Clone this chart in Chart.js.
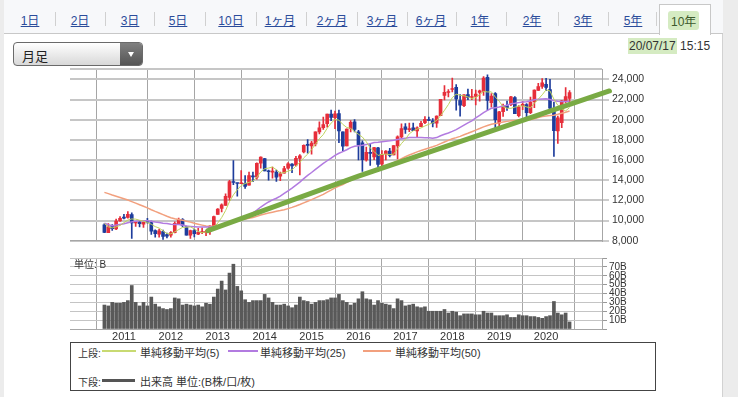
<!DOCTYPE html>
<html lang="ja">
<head>
<meta charset="utf-8">
<script src="https://cdn.jsdelivr.net/npm/chart.js@4.4.1/dist/chart.umd.min.js"></script>
<style>
  html, body { margin: 0; padding: 0; }
  body { width: 738px; height: 397px; overflow: hidden; position: relative; background: #ececec;
         font-family: "Liberation Sans", "Noto Sans CJK JP", sans-serif; color: #333; }
  #panel { position: absolute; left: 4px; top: 0; width: 718px; height: 397px; background: #fff; border-right: 1px solid #d2d2d2; }
  #tabbar { position: absolute; left: 4px; top: 0; width: 719px; height: 33px; background: #f7f8fa; border-bottom: 1px solid #c8c8c8; }
  .tab { position: absolute; top: 11px; font-size: 12px; color: #2b4c9b; text-decoration: underline; transform: translateX(-50%); white-space: nowrap; }
  .sep { position: absolute; top: 12px; width: 1px; height: 14px; background: #d0d0d0; }
  #active { position: absolute; left: 659px; top: 4px; width: 50px; height: 30px; background: #fff;
            border: 1px solid #c8c8c8; border-bottom: none; }
  #active span { position: absolute; left: 8px; top: 6px; font-size: 12px; color: #3d5a2c; background: #d5ebc2; padding: 1px 3px; border-radius: 3px; }
  #sel { position: absolute; left: 13px; top: 42px; width: 128px; height: 22px; border: 1px solid #6a6a6a; border-radius: 4px;
         background: linear-gradient(#ffffff, #d8d8d8); overflow: hidden; }
  #sel .txt { position: absolute; left: 8px; top: 3px; font-size: 13px; color: #222; }
  #sel .btn { position: absolute; right: 0; top: 0; width: 22px; height: 22px; background: linear-gradient(#808080, #555); }
  #sel .btn::after { content: ""; position: absolute; left: 8px; top: 9px; border-left: 3px solid transparent; border-right: 3px solid transparent; border-top: 5px solid #fff; }
  #stamp { position: absolute; left: 628px; top: 39px; font-size: 12px; color: #333; white-space: nowrap; }
  #stamp b { font-weight: normal; background: #d5ebc2; padding: 1px 1px; }
  canvas { position: absolute; left: 0; }
  #unit { position: absolute; left: 74px; top: 256px; font-size: 10px; color: #333; }
  #legend { position: absolute; left: 70px; top: 342px; width: 584px; height: 47px; border: 1px solid #444; background: #fff; }
  .lg { position: absolute; font-size: 11px; color: #333; white-space: nowrap; }
  .hd { position: absolute; font-size: 10px; color: #333; white-space: nowrap; }
  .ln { position: absolute; display: block; }
</style>
</head>
<body>
<div id="panel"></div>
<div id="tabbar"></div>
<div id="tabs"></div>
<div id="sel"><span class="txt">月足</span><span class="btn"></span></div>
<div id="stamp"><b>20/07/17</b> 15:15</div>
<canvas id="price" width="660" height="190" style="top:60px"></canvas>
<canvas id="volume" width="660" height="100" style="top:250px"></canvas>
<div id="unit">単位: B</div>
<div id="legend">
  <span class="hd" style="left:7px;top:2px">上段:</span>
  <span class="ln" style="left:31px;top:7px;width:34px;height:2px;background:#c8da72"></span>
  <span class="lg" style="left:69px;top:1px">単純移動平均(5)</span>
  <span class="ln" style="left:157px;top:7px;width:30px;height:2px;background:#b27be0"></span>
  <span class="lg" style="left:189px;top:1px">単純移動平均(25)</span>
  <span class="ln" style="left:292px;top:7px;width:28px;height:2px;background:#f2a07e"></span>
  <span class="lg" style="left:324px;top:1px">単純移動平均(50)</span>
  <span class="hd" style="left:7px;top:31px">下段:</span>
  <span class="ln" style="left:31px;top:36px;width:33px;height:3px;background:#555"></span>
  <span class="lg" style="left:69px;top:30px">出来高 単位:(B株/口/枚)</span>
</div>
<script>
// Period tabs (last one is the selected "10年")
const tabLabels = ['1日', '2日', '3日', '5日', '10日', '1ヶ月', '2ヶ月', '3ヶ月', '6ヶ月', '1年', '2年', '3年', '5年'];
const tabCenters = [30, 80, 130, 178, 231, 280, 332, 382, 431, 480, 532, 583, 633];

// Monthly candles, Aug 2010 .. Jul 2020 (index 0 = 2010/08)
const opens = [
  9570, 8800, 9400, 9180, 9950,
  10352, 10300, 10600, 9760, 9850, 9650, 9870, 9800, 9000, 8650, 8900, 8600,
  8550, 8800, 9700, 10100, 9400, 8550, 9000, 8650, 8800, 8800, 8900, 9450,
  10600, 11200, 11500, 12300, 13800, 13700, 13650, 13700, 13500, 14400, 14300, 15700,
  16150, 14900, 14800, 14800, 14400, 14700, 15200, 15600, 15500, 16150, 16800, 17500,
  17400, 17600, 18800, 19200, 19600, 20550, 20200, 20600, 18800, 17400, 19100, 19800,
  18800, 17700, 16000, 16700, 16300, 17200, 15600, 16600, 16900, 16500, 17400, 18300,
  19300, 19000, 19200, 18900, 19300, 19700, 20000, 19900, 19650, 20400, 22400, 22700,
  23000, 23200, 21900, 21400, 22500, 22200, 22300, 22700, 22800, 24200, 21700, 22600,
  19655, 20800, 21400, 21500, 22200, 20400, 21400, 21500, 20700, 21800, 22900, 23300,
  23500, 23000, 21100, 18900, 19700, 21900, 22100
];
const highs = [
  9694, 9700, 9597, 10155, 10394,
  10620, 10891, 10768, 9900, 10017, 9870, 10207, 9940, 9085, 9152, 9050, 8750,
  8900, 9866, 10255, 10190, 9450, 9055, 9136, 9222, 9288, 9035, 9498, 10433,
  11191, 11662, 12650, 13980, 15942, 13711, 14953, 14467, 14817, 14799, 15727, 16320,
  16164, 15000, 15300, 15000, 14800, 15376, 15759, 15660, 16374, 16533, 17520, 18030,
  17850, 18800, 19778, 20252, 20563, 20953, 20850, 20946, 18800, 19100, 19925, 20012,
  18951, 17905, 17291, 17613, 17251, 17250, 16938, 16943, 17156, 17446, 18389, 19592,
  19615, 19668, 19668, 19289, 19832, 20318, 20250, 20100, 20397, 22012, 23382, 23000,
  24129, 23486, 22502, 22500, 23050, 23011, 22949, 22950, 24286, 24448, 22583, 22698,
  20832, 21556, 21860, 22307, 22300, 21400, 21823, 21600, 22255, 22974, 23608, 24091,
  24115, 23995, 21719, 20365, 21916, 23185, 22893
];
const lows = [
  8807, 8797, 9027, 9100, 9900,
  10148, 10240, 8227, 9420, 9370, 9317, 9730, 8619, 8359, 8343, 8135, 8272,
  8349, 8766, 9700, 9388, 8541, 8238, 8365, 8600, 8700, 8488, 8619, 9430,
  10600, 10850, 11500, 12004, 13555, 12415, 13650, 13188, 13500, 13853, 14100, 15200,
  14914, 13995, 14200, 13885, 13964, 14700, 15100, 14753, 15400, 14529, 16700, 16672,
  16592, 17400, 18600, 19034, 19258, 19900, 19115, 17714, 16901, 17400, 18800, 18800,
  16017, 14865, 15900, 15471, 16040, 14864, 15300, 16000, 16300, 16500, 16111, 18200,
  18650, 18805, 18909, 18224, 19300, 19600, 19900, 19280, 19239, 20400, 21973, 22251,
  22764, 20950, 20347, 21300, 22000, 22000, 21462, 21851, 22400, 20971, 21243, 18948,
  19241, 20315, 20911, 21400, 20601, 20289, 21000, 20110, 20600, 21200, 22900, 23100,
  22892, 20916, 16358, 17646, 19200, 21700, 21800
];
const closes = [
  8824, 9369, 9202, 9937, 10229,
  10238, 10624, 9755, 9850, 9694, 9816, 9833, 8955, 8700, 8988, 8435, 8455,
  8803, 9723, 10084, 9521, 8543, 9007, 8695, 8840, 8870, 8928, 9446, 10395,
  11139, 11559, 12398, 13861, 13775, 13677, 13668, 13389, 14456, 14328, 15662, 16291,
  14915, 14841, 14828, 14304, 14632, 15162, 15621, 15425, 16174, 16414, 17460, 17451,
  17674, 18798, 19207, 19520, 20563, 20236, 20585, 18890, 17388, 19083, 19747, 19034,
  17518, 16027, 16759, 16666, 17235, 15576, 16569, 16887, 16450, 17425, 18308, 19114,
  19041, 19119, 18909, 19197, 19651, 20033, 19925, 19646, 20356, 22012, 22725, 22765,
  23098, 22068, 21454, 22468, 22202, 22305, 22554, 22865, 24120, 21920, 22351, 20015,
  20773, 21385, 21206, 22259, 20601, 21276, 21522, 20704, 21756, 22927, 23294, 23657,
  23205, 21143, 18917, 20194, 21878, 22288, 22696
];

// Moving averages (same months)
const ma5 = [
  9714, 9376, 9263, 9374, 9512, 9795, 10046, 10157, 10139, 10032,
  9948, 9790, 9630, 9400, 9258, 8982, 8707, 8676, 8881, 9100,
  9317, 9335, 9376, 9170, 8921, 8791, 8868, 8956, 9296, 9756,
  10293, 10987, 11870, 12546, 13054, 13476, 13674, 13793, 13904, 14301,
  14825, 15130, 15207, 15307, 15036, 14704, 14753, 14909, 15029, 15403,
  15759, 16219, 16585, 17035, 17559, 18118, 18530, 19152, 19665, 20022,
  19959, 19532, 19236, 19139, 18828, 18554, 18282, 17817, 17201, 16841,
  16453, 16561, 16587, 16543, 16581, 17128, 17637, 18068, 18601, 18898,
  19076, 19183, 19382, 19543, 19690, 19922, 20394, 20933, 21501, 22191,
  22534, 22422, 22371, 22258, 22099, 22197, 22479, 22809, 22753, 22762,
  22254, 21836, 21289, 21146, 21128, 21245, 21345, 21373, 21272, 21172,
  21637, 22041, 22468, 22968, 22845, 22043, 21423, 21067, 20884, 21195
];
const ma25 = [
  9726, 9578, 9495, 9550, 9618, 9674, 9779, 9866, 9936, 9971,
  9982, 9977, 9921, 9850, 9804, 9740, 9704, 9635, 9616, 9614,
  9551, 9451, 9420, 9393, 9365, 9367, 9349, 9359, 9377, 9413,
  9466, 9537, 9702, 9859, 10018, 10172, 10314, 10534, 10759, 11026,
  11341, 11599, 11840, 12045, 12213, 12418, 12683, 12947, 13216, 13510,
  13812, 14153, 14473, 14764, 15071, 15376, 15661, 15929, 16188, 16464,
  16673, 16833, 17018, 17235, 17370, 17419, 17463, 17540, 17614, 17731,
  17769, 17825, 17875, 17916, 17966, 18042, 18108, 18172, 18230, 18234,
  18234, 18239, 18218, 18205, 18168, 18227, 18411, 18557, 18678, 18840,
  19022, 19240, 19468, 19689, 19892, 20171, 20423, 20712, 20931, 21128,
  21197, 21263, 21357, 21440, 21574, 21630, 21695, 21755, 21786, 21870,
  21973, 22025, 22062, 22079, 22001, 21875, 21825, 21801, 21805, 21820
];
const ma50 = [
  12791, 12669, 12530, 12407, 12283, 12162, 12030, 11878, 11723, 11571,
  11419, 11258, 11075, 10904, 10752, 10585, 10420, 10282, 10170, 10100,
  10018, 9939, 9842, 9729, 9636, 9546, 9463, 9427, 9463, 9516,
  9570, 9658, 9784, 9897, 9994, 10077, 10146, 10228, 10304, 10415,
  10540, 10652, 10738, 10830, 10914, 10985, 11067, 11184, 11305, 11437,
  11589, 11751, 11916, 12071, 12242, 12421, 12599, 12815, 13023, 13241,
  13422, 13574, 13776, 13997, 14198, 14380, 14531, 14690, 14829, 14972,
  15093, 15254, 15411, 15566, 15738, 15927, 16131, 16323, 16497, 16652,
  16805, 16950, 17074, 17197, 17316, 17450, 17622, 17788, 17956, 18105,
  18221, 18351, 18504, 18651, 18811, 18970, 19124, 19294, 19424, 19547,
  19619, 19686, 19764, 19835, 19904, 19932, 19967, 19986, 19996, 20019,
  20100, 20218, 20309, 20379, 20421, 20449, 20532, 20635, 20747, 20856
];

// Hand-drawn trend line (month index, price)
const trendX = [26.5, 65, 129.2];
const trendY = [9000, 14400, 22850];

// Monthly volume, billions
const volumes = [
  27, 26, 30, 29, 29,
  30, 32, 49, 30, 26, 30, 26, 36, 28, 25, 23, 22,
  23, 35, 34, 27, 28, 27, 26, 27, 25, 29, 28, 36,
  45, 54, 44, 63, 73, 48, 43, 33, 30, 32, 32, 32,
  39, 35, 30, 27, 27, 28, 26, 24, 27, 36, 32, 31,
  28, 30, 32, 32, 33, 35, 35, 39, 32, 30, 27, 29,
  34, 42, 34, 33, 27, 32, 29, 28, 27, 23, 34, 32,
  26, 27, 28, 25, 24, 25, 20, 20, 20, 20, 22, 18,
  20, 19, 15, 17, 17, 17, 16, 16, 20, 18, 18, 15,
  15, 15, 16, 13, 13, 16, 15, 15, 14, 14, 13, 12,
  14, 15, 31, 18, 16, 18, 8
];

// Year grid labels; January of each year sits at index 5 + 12*n
const yearLabels = ['2011', '2012', '2013', '2014', '2015', '2016', '2017', '2018', '2019', '2020'];
const priceTicks = [8000, 10000, 12000, 14000, 16000, 18000, 20000, 22000, 24000, 25000];
const volumeTicks = [0, 10, 20, 30, 40, 50, 60, 70, 80];

const xMin = -8.8, xMax = 127.3;
const yearPos = yearLabels.map((y, n) => 5 + 12 * n);
const xTicks = [xMin, ...yearPos, xMax];

// build the tab strip
const tabsEl = document.getElementById('tabs');
tabLabels.forEach((t, i) => {
  const a = document.createElement('span');
  a.className = 'tab';
  a.style.left = tabCenters[i] + 'px';
  a.textContent = t;
  tabsEl.appendChild(a);
  const s = document.createElement('span');
  s.className = 'sep';
  s.style.left = (i < tabCenters.length - 1 ? (tabCenters[i] + tabCenters[i + 1]) / 2 : 656) + 'px';
  tabsEl.appendChild(s);
});
const act = document.createElement('div');
act.id = 'active';
act.innerHTML = '<span>10年</span>';
tabsEl.appendChild(act);

const FONT = '"Liberation Sans", Arial, sans-serif';
const UP = '#e62e3a', DOWN = '#1e3d9c';
const candleColors = closes.map((c, i) => (c >= opens[i] ? UP : DOWN));
const pts = arr => arr.map((v, i) => ({ x: i, y: v }));

new Chart(document.getElementById('price'), {
  type: 'bar',
  data: {
    datasets: [
      { type: 'line', data: trendX.map((x, i) => ({ x, y: trendY[i] })), borderColor: '#79aa44', borderWidth: 5,
        pointRadius: 0, borderCapStyle: 'round', clip: false, order: 1 },
      { type: 'line', data: pts(ma5), borderColor: '#bfd35f', borderWidth: 1, pointRadius: 0, order: 2 },
      { type: 'line', data: pts(ma25), borderColor: '#b27be0', borderWidth: 1.5, pointRadius: 0, order: 2 },
      { type: 'line', data: pts(ma50), borderColor: '#f2a07e', borderWidth: 1.5, pointRadius: 0, order: 2 },
      { data: closes.map((c, i) => ({ x: i, y: [opens[i], c] })), backgroundColor: candleColors,
        barThickness: 3, minBarLength: 1, grouped: false, order: 3 },
      { data: closes.map((c, i) => ({ x: i, y: [lows[i], highs[i]] })), backgroundColor: candleColors,
        barThickness: 1, grouped: false, order: 4 }
    ]
  },
  options: {
    responsive: false,
    animation: false,
    layout: { padding: { left: 70, top: 7, right: 0, bottom: 0 } },
    plugins: { legend: { display: false }, tooltip: { enabled: false } },
    scales: {
      x: {
        type: 'linear', min: xMin, max: xMax, offset: false,
        afterBuildTicks: s => { s.ticks = xTicks.map(v => ({ value: v })); },
        afterFit: s => { s.height = 8; },
        ticks: { display: false },
        grid: { color: '#a6a6a6', lineWidth: 1, drawTicks: false },
        border: { display: true, color: '#a6a6a6' }
      },
      y: {
        position: 'right', min: 8000, max: 25000,
        afterBuildTicks: s => { s.ticks = priceTicks.map(v => ({ value: v })); },
        afterFit: s => { s.width = 58; },
        ticks: { color: '#333', padding: 3, autoSkip: false, font: { family: FONT, size: 10.5 },
                 callback: v => (v === 25000 ? '' : v.toLocaleString('en-US')) },
        grid: { color: '#c6c6c6', lineWidth: 2, tickLength: 7, tickWidth: 1,
                tickColor: c => (c.tick && c.tick.value === 25000 ? 'rgba(0,0,0,0)' : '#999') },
        border: { display: true, color: '#a6a6a6' }
      }
    }
  }
});

new Chart(document.getElementById('volume'), {
  type: 'bar',
  data: {
    datasets: [
      { data: pts(volumes), backgroundColor: '#595959', barThickness: 3 }
    ]
  },
  options: {
    responsive: false,
    animation: false,
    layout: { padding: { left: 70, top: 4, right: 0, bottom: 0 } },
    plugins: { legend: { display: false }, tooltip: { enabled: false } },
    scales: {
      x: {
        type: 'linear', min: xMin, max: xMax, offset: false,
        afterBuildTicks: s => { s.ticks = xTicks.map(v => ({ value: v })); },
        afterFit: s => { s.height = 21; },
        ticks: { color: '#333', padding: 1, maxRotation: 0, autoSkip: false, font: { family: FONT, size: 11 },
                 callback: v => { const k = yearPos.indexOf(v); return k >= 0 ? yearLabels[k] : ''; } },
        grid: { color: '#a6a6a6', lineWidth: 1, drawTicks: false },
        border: { display: true, color: '#a6a6a6' }
      },
      y: {
        position: 'right', min: 0, max: 80,
        afterBuildTicks: s => { s.ticks = volumeTicks.map(v => ({ value: v })); },
        afterFit: s => { s.width = 58; },
        ticks: { color: '#333', padding: 2, autoSkip: false, font: { family: FONT, size: 10 },
                 callback: v => (v > 0 && v < 80 ? v + 'B' : '') },
        grid: { color: '#c4c4c4', lineWidth: 1, tickLength: 5, tickColor: '#999' },
        border: { display: true, color: '#a6a6a6' }
      }
    }
  }
});
</script>
</body>
</html>
